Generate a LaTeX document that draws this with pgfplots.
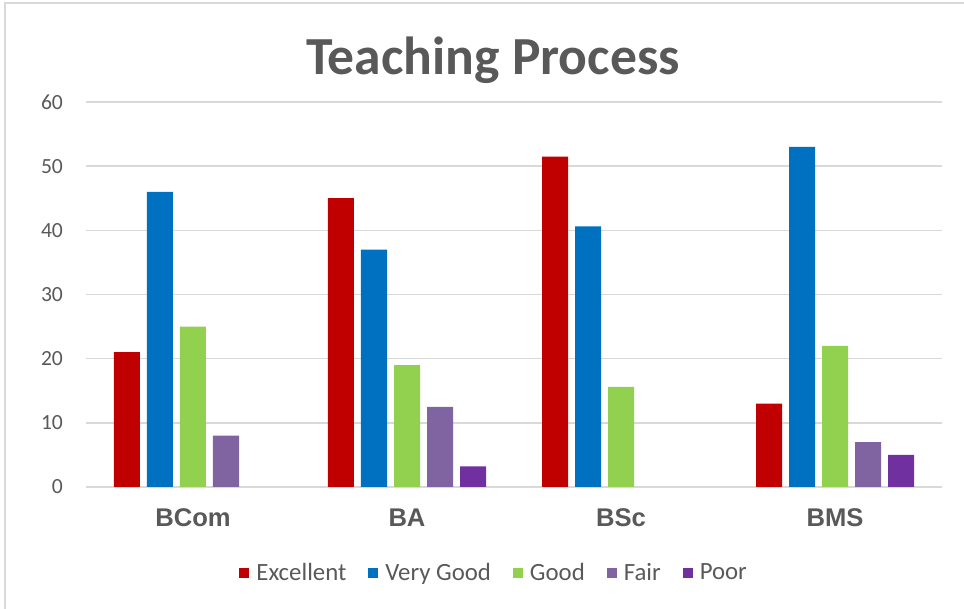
\documentclass[border=0pt]{standalone}
\usepackage{fontspec}
\setmainfont{Carlito}
\newfontfamily\arialfont{Liberation Sans}
\usepackage{pgfplots}
\pgfplotsset{compat=1.18}

\definecolor{txtgray}{HTML}{595959}
\definecolor{gridgray}{HTML}{D9D9D9}
\definecolor{cExc}{HTML}{C00000}
\definecolor{cVG}{HTML}{0070C0}
\definecolor{cGood}{HTML}{92D050}
\definecolor{cFair}{HTML}{8064A2}
\definecolor{cPoor}{HTML}{7030A0}

\begin{document}
\begin{tikzpicture}
\useasboundingbox (0,0) rectangle (482pt,304.5pt);
\draw[gridgray, line width=0.75pt] (2.5pt,0) -- (2.5pt,303pt) -- (482pt,303pt);
\node[anchor=base, font=\fontsize{26.8}{30}\selectfont\bfseries, text=txtgray] at (246.5pt,267pt) {Teaching Process};
\begin{axis}[
    at={(43pt,61pt)}, anchor=south west,
    scale only axis, width=428pt, height=192.5pt,
    ybar, bar width=13pt,
    xmin=-0.5, xmax=3.5, ymin=0, ymax=60,
    xtick={0,1,2,3}, xticklabels={BCom,BA,BSc,BMS},
    ytick={0,10,...,60},
    axis line style={draw=none},
    major tick length=0pt,
    ymajorgrids, grid style={gridgray, line width=0.75pt},
    /pgf/number format/assume math mode=true,
    yticklabel style={font=\fontsize{10.8}{12}\selectfont, text=txtgray, anchor=east, xshift=-8pt},
    xticklabel style={font=\arialfont\bfseries\fontsize{12.8}{14}\selectfont, text=txtgray, anchor=base, yshift=-20pt},
    legend image code/.code={\fill[#1] (0pt,-2.5pt) rectangle (5pt,2.5pt);},
    legend columns=5,
    legend style={at={(0.478,-0.2234)}, anchor=center, draw=none, fill=none,
        font=\fontsize{12.4}{14}\selectfont, text=txtgray,
        /tikz/every odd column/.append style={column sep=1.5pt},
        /tikz/every even column/.append style={column sep=9pt}},
]
\addplot[fill=cExc, draw=none, bar shift=-33pt] coordinates {(0,21) (1,45) (2,51.5) (3,13)};
\addplot[fill=cVG, draw=none, bar shift=-16.5pt] coordinates {(0,46) (1,37) (2,40.6) (3,53)};
\addplot[fill=cGood, draw=none, bar shift=0pt] coordinates {(0,25) (1,19) (2,15.6) (3,22)};
\addplot[fill=cFair, draw=none, bar shift=16.5pt] coordinates {(0,8) (1,12.5) (3,7)};
\addplot[fill=cPoor, draw=none, bar shift=33pt] coordinates {(1,3.2) (3,5)};
\legend{Excellent, Very Good, Good, Fair, Poor}
\end{axis}
\end{tikzpicture}
\end{document}
